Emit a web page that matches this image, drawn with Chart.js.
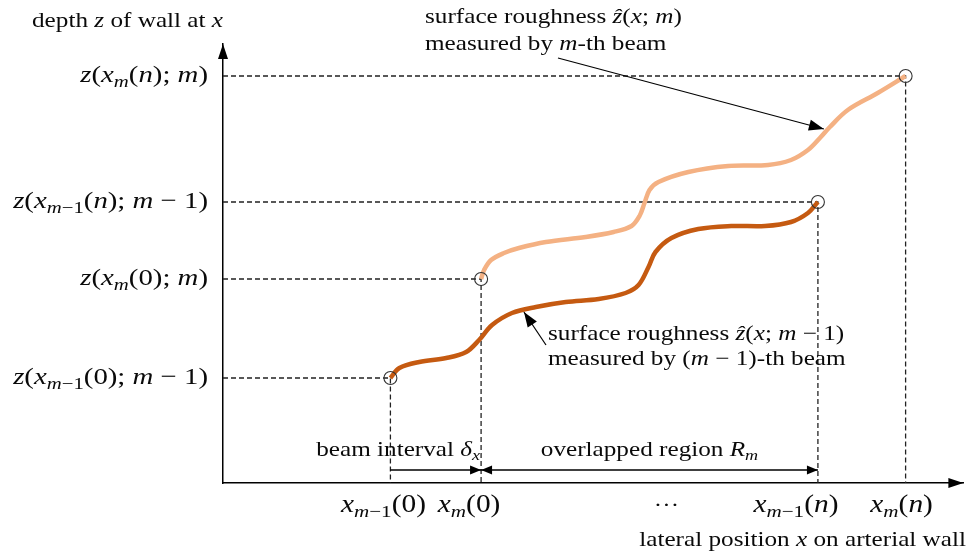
<!DOCTYPE html>
<html>
<head>
<meta charset="utf-8">
<script src="https://cdn.jsdelivr.net/npm/chart.js@4/dist/chart.umd.min.js"></script>
<style>
  html, body { margin: 0; padding: 0; background: #fff; }
  #wrap { width: 971px; height: 557px; }
</style>
</head>
<body>
<div id="wrap"><canvas id="c" width="971" height="557"></canvas></div>
<script>
// Surface profile measured by the (m-1)-th beam: lateral position / depth
const xPrev = [168, 177, 197, 224, 244, 257, 270, 290, 314, 344, 377, 404, 417, 427, 434, 450, 477, 510, 544, 570, 587, 597];
const zPrev = [105, 115, 121, 125, 131, 143, 158, 170, 176, 181, 184, 190, 198, 216, 231, 245, 254, 257, 257, 261, 270, 281];

// Surface profile measured by the m-th beam
const xCur = [259, 262, 269, 282, 297, 324, 364, 392, 410, 418, 423, 428, 437, 467, 507, 547, 570, 587, 599, 609, 627, 657, 685];
const zCur = [204, 213, 223, 230, 235, 241, 246, 251, 257, 267, 280, 293, 301, 311, 317, 318, 323, 333, 345, 356, 373, 390, 407];

// End points of both profiles: x_{m-1}(0), x_m(0), x_{m-1}(n), x_m(n)
const xEnds = [168, 259, 597, 685];
const zEnds = [105, 204, 281, 407];

// Axis labels at the end points ($...$ = math, _ = subscript)
const zTickValues = [407, 281, 204, 105];
const zTickLabels = ['$z(x_m(n); m)$', '$z(x_{m−1}(n); m − 1)$', '$z(x_m(0); m)$', '$z(x_{m−1}(0); m − 1)$'];
const xTickValues = [168, 259, 445, 597, 685];
const xTickLabels = ['$x_{m−1}(0)$', '$x_m(0)$', '···', '$x_{m−1}(n)$', '$x_m(n)$'];

const SERIF = '"Liberation Serif", "Times New Roman", serif';
const STRETCH = 1.2;

function parseRich(str) {
  const runs = [];
  let math = false;
  for (let i = 0; i < str.length; i++) {
    const c = str[i];
    if (c === '$') { math = !math; continue; }
    if (math && c === '_') {
      let sub;
      if (str[i + 1] === '{') { const j = str.indexOf('}', i + 2); sub = str.slice(i + 2, j); i = j; }
      else { sub = str[i + 1]; i++; }
      for (const sc of sub) runs.push({ t: sc, italic: /[a-zA-Zα-ω]/.test(sc), sub: true, math: true });
      continue;
    }
    runs.push({ t: c, italic: math && /[a-zA-Zα-ωẑ]/.test(c), sub: false, math });
  }
  return runs;
}

function runFont(r, size, mathSize) {
  const s = r.math ? mathSize : size;
  const fs = r.sub ? s * 0.72 : s;
  return (r.italic ? 'italic ' : '') + fs.toFixed(1) + 'px ' + SERIF;
}

function drawRich(ctx, str, x, y, opt) {
  const size = opt.size || 21, mathSize = opt.mathSize || size;
  const runs = parseRich(str);
  let w = 0;
  for (const r of runs) { ctx.font = runFont(r, size, mathSize); r.w = ctx.measureText(r.t).width * STRETCH; w += r.w; }
  let cx = x;
  if (opt.align === 'right') cx = x - w;
  else if (opt.align === 'center') cx = x - w / 2;
  ctx.save();
  ctx.fillStyle = '#0a0a0a';
  ctx.textBaseline = 'middle';
  ctx.textAlign = 'left';
  for (const r of runs) {
    ctx.font = runFont(r, size, mathSize);
    ctx.save();
    ctx.translate(cx, y + (r.sub ? mathSize * 0.28 : 0));
    ctx.scale(STRETCH, 1);
    ctx.fillText(r.t, 0, 0);
    ctx.restore();
    cx += r.w;
  }
  ctx.restore();
}

function arrowHead(ctx, x0, y0, x1, y1, len, half) {
  const ang = Math.atan2(y1 - y0, x1 - x0);
  ctx.beginPath();
  ctx.moveTo(x1, y1);
  ctx.lineTo(x1 - len * Math.cos(ang) + half * Math.sin(ang), y1 - len * Math.sin(ang) - half * Math.cos(ang));
  ctx.lineTo(x1 - len * Math.cos(ang) - half * Math.sin(ang), y1 - len * Math.sin(ang) + half * Math.cos(ang));
  ctx.closePath();
  ctx.fill();
}

function arrow(ctx, x0, y0, x1, y1, len, half, both) {
  ctx.beginPath();
  ctx.moveTo(x0, y0);
  ctx.lineTo(x1, y1);
  ctx.stroke();
  arrowHead(ctx, x0, y0, x1, y1, len, half);
  if (both) arrowHead(ctx, x1, y1, x0, y0, len, half);
}

// Dashed guide lines from each end point to both axes
const guides = [];
xEnds.forEach((xv, i) => {
  guides.push({ x: 0, y: zEnds[i] }, { x: xv, y: zEnds[i] }, { x: xv, y: 0 }, { x: xv, y: null });
});

const overlay = {
  id: 'overlay',
  afterDraw(chart) {
    const { ctx, chartArea: a, scales: { x, y } } = chart;
    ctx.save();
    ctx.fillStyle = '#000';
    ctx.strokeStyle = '#000';
    ctx.lineWidth = 1.5;
    // axis arrow heads
    arrowHead(ctx, a.left, a.bottom, a.left, a.top, 15, 5);
    arrowHead(ctx, a.left, a.bottom, a.right, a.bottom, 15, 5);

    // depth axis labels
    zTickValues.forEach((v, i) => drawRich(ctx, zTickLabels[i], a.left - 15, y.getPixelForValue(v), { size: 21, mathSize: 24, align: 'right' }));
    // lateral axis labels
    const xOff = [-7, -12, 0, -22, -4];
    xTickValues.forEach((v, i) => drawRich(ctx, xTickLabels[i], x.getPixelForValue(v) + xOff[i], a.bottom + 23, { size: 21, mathSize: 24.5, align: 'center' }));

    drawRich(ctx, 'depth $z$ of wall at $x$', 32, 21, { size: 21, mathSize: 21 });
    drawRich(ctx, 'lateral position $x$ on arterial wall', 966, a.bottom + 57, { size: 21, mathSize: 21, align: 'right' });

    // beam interval and overlapped region
    const yArr = a.bottom - 13;
    const px0 = x.getPixelForValue(xEnds[0]), px1 = x.getPixelForValue(xEnds[1]), px2 = x.getPixelForValue(xEnds[2]);
    ctx.lineWidth = 1.3;
    arrow(ctx, px0, yArr, px1, yArr, 11, 4.5, false);
    arrow(ctx, px1, yArr, px2, yArr, 11, 4.5, true);
    drawRich(ctx, 'beam interval $δ_x$', px1 - 1, a.bottom - 33, { size: 21, mathSize: 21, align: 'right' });
    drawRich(ctx, 'overlapped region $R_m$', (px1 + px2) / 2, a.bottom - 33, { size: 21, mathSize: 21, align: 'center' });

    // callouts for both profiles
    ctx.lineWidth = 1.2;
    arrow(ctx, 558, 58, x.getPixelForValue(603), y.getPixelForValue(354), 15, 5.5, false);
    drawRich(ctx, 'surface roughness $ẑ(x; m)$', 425, 17, { size: 21, mathSize: 21 });
    drawRich(ctx, 'measured by $m$-th beam', 425, 44, { size: 21, mathSize: 21 });

    arrow(ctx, 546, 345, x.getPixelForValue(302), y.getPixelForValue(171), 15, 5.5, false);
    drawRich(ctx, 'surface roughness $ẑ(x; m − 1)$', 548, 334, { size: 21, mathSize: 21 });
    drawRich(ctx, 'measured by $(m − 1)$-th beam', 548, 359, { size: 21, mathSize: 21 });
    ctx.restore();
  }
};

new Chart(document.getElementById('c'), {
  type: 'line',
  data: {
    datasets: [
      {
        label: 'm-th beam',
        data: xCur.map((v, i) => ({ x: v, y: zCur[i] })),
        borderColor: '#F4B183', borderWidth: 4.5, pointRadius: 0,
        tension: 0.35, order: 2
      },
      {
        label: '(m-1)-th beam',
        data: xPrev.map((v, i) => ({ x: v, y: zPrev[i] })),
        borderColor: '#C55A11', borderWidth: 4.5, pointRadius: 0,
        tension: 0.35, order: 2
      },
      {
        label: 'guides',
        data: guides,
        borderColor: '#222', borderWidth: 1.3, borderDash: [5, 3],
        pointRadius: 0, tension: 0, spanGaps: false, order: 3
      },
      {
        label: 'ends',
        type: 'scatter',
        data: xEnds.map((v, i) => ({ x: v, y: zEnds[i] })),
        pointStyle: 'circle', pointRadius: 6.5,
        pointBorderColor: '#333', pointBackgroundColor: 'rgba(0,0,0,0)', pointBorderWidth: 1.1,
        showLine: false, order: 1
      }
    ]
  },
  options: {
    responsive: false,
    animation: false,
    devicePixelRatio: 1,
    events: [],
    layout: { padding: { left: 223, right: 5, top: 44, bottom: 74 } },
    plugins: { legend: { display: false }, tooltip: { enabled: false } },
    scales: {
      x: {
        type: 'linear', min: 0, max: 743,
        grid: { display: false, drawTicks: false },
        ticks: { display: false },
        border: { display: true, color: '#000', width: 1.5 },
        afterFit: s => { s.height = 0; }
      },
      y: {
        type: 'linear', min: 0, max: 439,
        grid: { display: false, drawTicks: false },
        ticks: { display: false },
        border: { display: true, color: '#000', width: 1.5 },
        afterFit: s => { s.width = 0; }
      }
    }
  },
  plugins: [overlay]
});
</script>
</body>
</html>
